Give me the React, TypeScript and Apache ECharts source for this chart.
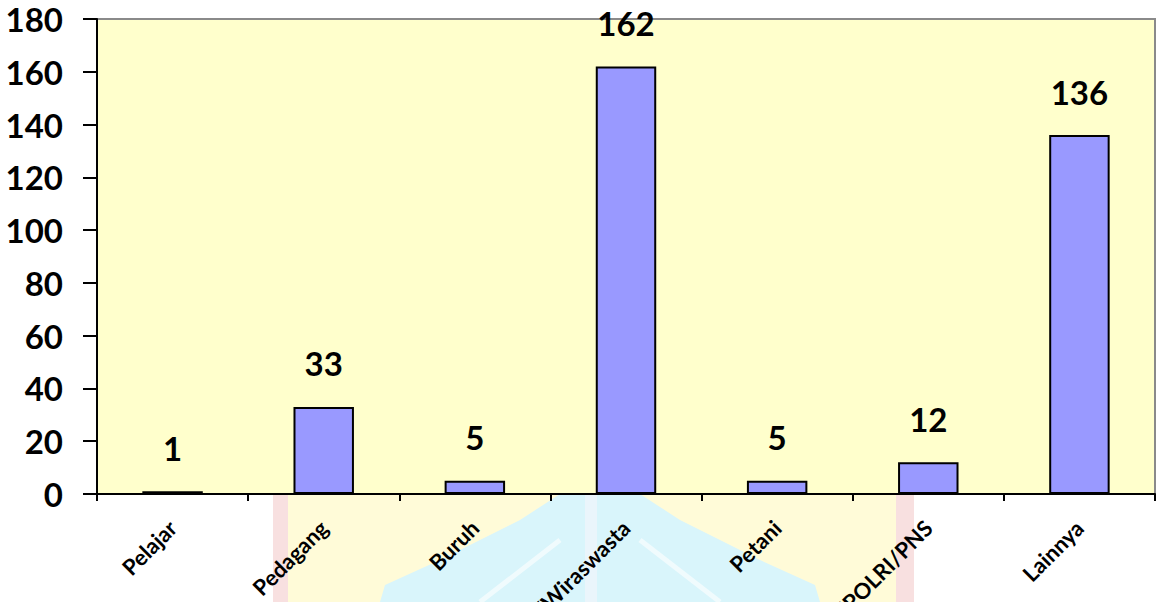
import React, { useEffect, useRef } from "react";
import * as echarts from "echarts";

const categories = ["Pelajar", "Pedagang", "Buruh", "Swasta/Wiraswasta", "Petani", "TNI/POLRI/PNS", "Lainnya"];
const values = [1, 33, 5, 162, 5, 12, 136];
const yMin = 0;
const yMax = 180;
const yInterval = 20;

const FONT = "Lato, 'Open Sans', sans-serif";

export default function App() {
  const ref = useRef<HTMLDivElement>(null);
  useEffect(() => {
    document.body.style.margin = "0";
    const chart = echarts.init(ref.current!, null, { renderer: "svg" });
    chart.setOption({
      animation: false,
      backgroundColor: "#ffffff",
      graphic: [
        { type: "rect", z: -10, shape: { x: 287, y: 494, width: 609, height: 108 }, style: { fill: "#fffbd8" } },
        { type: "rect", z: -10, shape: { x: 273, y: 494, width: 15, height: 108 }, style: { fill: "#f8e0e0" } },
        { type: "rect", z: -10, shape: { x: 896, y: 494, width: 18, height: 108 }, style: { fill: "#f8e0e0" } },
        {
          type: "polygon", z: -9,
          shape: { points: [[380, 602], [385, 585], [440, 560], [520, 520], [560, 494], [640, 494], [680, 520], [760, 560], [815, 585], [820, 602]] },
          style: { fill: "#d9f5fb" },
        },
        { type: "line", z: -8, shape: { x1: 560, y1: 540, x2: 480, y2: 602 }, style: { stroke: "#ffffff", lineWidth: 5, opacity: 0.6 } },
        { type: "line", z: -8, shape: { x1: 640, y1: 540, x2: 720, y2: 602 }, style: { stroke: "#ffffff", lineWidth: 5, opacity: 0.6 } },
        { type: "rect", z: -8, shape: { x: 585, y: 494, width: 12, height: 108 }, style: { fill: "#eaf5fb" } },
      ],
      grid: {
        left: 97,
        right: 2,
        top: 19,
        bottom: 108,
        show: true,
        backgroundColor: "#ffffcc",
        borderColor: "#8a8a8a",
        borderWidth: 2,
        containLabel: false,
        outerBoundsMode: "none",
      },
      xAxis: {
        type: "category",
        data: categories,
        axisLine: { lineStyle: { color: "#000000", width: 2 } },
        axisTick: { show: true, length: 7, lineStyle: { color: "#000000", width: 2 } },
        axisLabel: {
          rotate: 45,
          interval: 0,
          margin: 30,
          color: "#000000",
          fontWeight: "bold",
          fontSize: 22,
          fontFamily: FONT,
        },
      },
      yAxis: {
        type: "value",
        min: yMin,
        max: yMax,
        interval: yInterval,
        splitLine: { show: false },
        axisLine: { show: true, lineStyle: { color: "#000000", width: 2 } },
        axisTick: { show: true, length: 14, lineStyle: { color: "#000000", width: 2 } },
        axisLabel: {
          margin: 34,
          color: "#000000",
          fontWeight: "bold",
          fontSize: 33,
          fontFamily: FONT,
        },
      },
      series: [
        {
          type: "bar",
          data: values,
          barWidth: "40%",
          itemStyle: { color: "#9999ff", borderColor: "#000000", borderWidth: 2 },
          label: {
            show: true,
            position: "top",
            distance: 27,
            color: "#000000",
            fontWeight: "bold",
            fontSize: 33,
            fontFamily: FONT,
          },
        },
      ],
    });
    return () => chart.dispose();
  }, []);
  return <div ref={ref} style={{ width: 1157, height: 602 }} />;
}
